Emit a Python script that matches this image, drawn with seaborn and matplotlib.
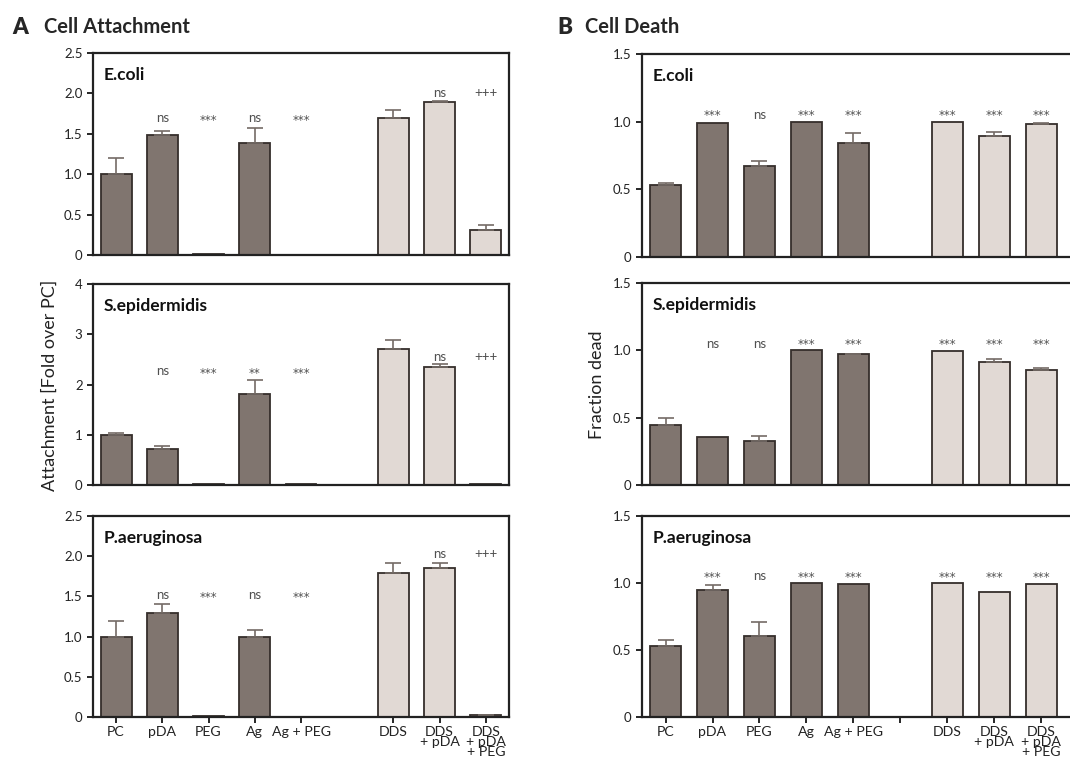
import matplotlib
matplotlib.use("Agg")
import matplotlib.pyplot as plt
import seaborn as sns
import pandas as pd
import numpy as np

# ---------------- data ----------------
categories = ["PC", "pDA", "PEG", "Ag", "Ag + PEG", "DDS", "DDS\n+ pDA", "DDS\n+ pDA\n+ PEG"]
groups = ["coat", "coat", "coat", "coat", "coat", "dds", "dds", "dds"]
species = ["E.coli", "S.epidermidis", "P.aeruginosa"]

# Cell attachment (fold over PC)
att_ecoli = [1.00, 1.49, 0.01, 1.39, 0.005, 1.69, 1.89, 0.315]
att_ecoli_err = [0.20, 0.04, 0.0, 0.18, 0.0, 0.11, 0.02, 0.055]
att_ecoli_sig = ["", "ns", "***", "ns", "***", "", "ns", "+++"]

att_sepi = [1.00, 0.715, 0.02, 1.82, 0.01, 2.70, 2.35, 0.02]
att_sepi_err = [0.04, 0.065, 0.0, 0.27, 0.0, 0.19, 0.05, 0.0]
att_sepi_sig = ["", "ns", "***", "**", "***", "", "ns", "+++"]

att_paer = [1.00, 1.295, 0.01, 1.00, 0.005, 1.79, 1.85, 0.02]
att_paer_err = [0.195, 0.115, 0.0, 0.08, 0.0, 0.12, 0.07, 0.01]
att_paer_sig = ["", "ns", "***", "ns", "***", "", "ns", "+++"]

# Cell death (fraction dead)
dead_ecoli = [0.532, 0.988, 0.676, 0.998, 0.845, 0.995, 0.896, 0.98]
dead_ecoli_err = [0.013, 0.0, 0.034, 0.0, 0.071, 0.0, 0.03, 0.01]
dead_ecoli_sig = ["", "***", "ns", "***", "***", "***", "***", "***"]

dead_sepi = [0.446, 0.359, 0.327, 1.00, 0.97, 0.995, 0.91, 0.856]
dead_sepi_err = [0.052, 0.0, 0.037, 0.0, 0.005, 0.0, 0.023, 0.01]
dead_sepi_sig = ["", "ns", "ns", "***", "***", "***", "***", "***"]

dead_paer = [0.528, 0.95, 0.603, 1.00, 0.995, 1.00, 0.933, 0.993]
dead_paer_err = [0.048, 0.035, 0.104, 0.0, 0.0, 0.0, 0.0, 0.0]
dead_paer_sig = ["", "***", "ns", "***", "***", "***", "***", "***"]

att_ylims = [2.5, 4.0, 2.5]
att_yticks = [[0, 0.5, 1.0, 1.5, 2.0, 2.5], [0, 1, 2, 3, 4], [0, 0.5, 1.0, 1.5, 2.0, 2.5]]
# heights of significance marks: (uncoated/coated group, DDS group)
att_sig_y = [(1.70, 2.0), (2.26, 2.54), (1.52, 2.03)]
dead_sig_y = (1.06, 1.05)  # (***, ns)
dead_yticks = [0, 0.5, 1.0, 1.5]

# ---------------- style ----------------
sns.set_theme(style="ticks")
plt.rcParams["font.family"] = ["Lato", "DejaVu Sans"]
plt.rcParams["axes.linewidth"] = 1.6
plt.rcParams["xtick.major.width"] = 1.4
plt.rcParams["ytick.major.width"] = 1.4
plt.rcParams["xtick.major.size"] = 4
plt.rcParams["ytick.major.size"] = 4

DARK = "#80756f"
LIGHT = "#e1d9d4"
EDGE = "#352e2b"
ERRC = "#746b66"
SIGC = "#505050"

gap = " "
order = categories[:5] + [gap] + categories[5:]
positions = [0, 1, 2, 3, 4, 6, 7, 8]

fig = plt.figure(figsize=(10.7, 7.62), dpi=100)
W, H = 1070.0, 762.0


def add_axes_px(x0, y_top, x1, y_bot):
    return fig.add_axes([x0 / W, 1 - y_bot / H, (x1 - x0) / W, (y_bot - y_top) / H])


def fmt(v):
    if v == 0:
        return "0"
    if isinstance(v, int):
        return str(v)
    return f"{v:.1f}"


def draw_panel(ax, vals, errs, sigs, sp, ylim, yticks, sig_heights, xmax, bottom, gap_tick):
    df = pd.DataFrame({"cat": categories, "val": vals, "grp": groups})
    sns.barplot(data=df, x="cat", y="val", hue="grp", order=order,
                palette={"coat": DARK, "dds": LIGHT}, dodge=False, width=0.67,
                edgecolor=EDGE, linewidth=1.3, errorbar=None, legend=False,
                saturation=1, ax=ax)
    e = np.array(errs)
    v = np.array(vals)
    p = np.array(positions)
    m = e > 0
    ax.errorbar(p[m], v[m], yerr=[np.zeros(m.sum()), e[m]], fmt="none",
                ecolor=ERRC, elinewidth=1.2, capsize=5.5, capthick=1.2, zorder=1)
    for pos, s, h in zip(positions, sigs, sig_heights):
        if not s:
            continue
        if "*" in s:
            ax.text(pos, h - 0.012 * ylim, s, ha="center", va="center",
                    fontsize=8.5, color=SIGC, family="DejaVu Sans")
        else:
            ax.text(pos, h, s, ha="center", va="center", fontsize=9.5, color=SIGC)
    ax.set_ylim(0, ylim)
    ax.set_xlim(-0.5, xmax)
    ax.set_yticks(yticks)
    ax.set_yticklabels([fmt(t) for t in yticks], fontsize=9.5, color="#222222")
    ax.set_xlabel("")
    ax.set_ylabel("")
    for s in ax.spines.values():
        s.set_visible(True)
        s.set_color("#222222")
    ax.text(0.025, 0.93, sp, transform=ax.transAxes, ha="left", va="top",
            fontsize=12.5, fontweight="bold", color="#111111")
    if bottom:
        ticks = positions + ([5] if gap_tick else [])
        labels = categories + ([""] if gap_tick else [])
        ax.set_xticks(ticks)
        ax.set_xticklabels(labels, fontsize=10.2, linespacing=0.78, color="#222222")
        ax.tick_params(axis="x", pad=2.5)
    else:
        ax.set_xticks([])


left_rows = [(53, 255), (284, 485), (516, 717)]
right_rows = [(54, 257), (283, 485), (516, 717)]
att_data = [(att_ecoli, att_ecoli_err, att_ecoli_sig),
            (att_sepi, att_sepi_err, att_sepi_sig),
            (att_paer, att_paer_err, att_paer_sig)]
dead_data = [(dead_ecoli, dead_ecoli_err, dead_ecoli_sig),
             (dead_sepi, dead_sepi_err, dead_sepi_sig),
             (dead_paer, dead_paer_err, dead_paer_sig)]

for i in range(3):
    ax = add_axes_px(93, left_rows[i][0], 509, left_rows[i][1])
    v, e, s = att_data[i]
    a, b = att_sig_y[i]
    heights = [a if k < 5 else b for k in range(len(s))]
    draw_panel(ax, v, e, s, species[i], att_ylims[i], att_yticks[i], heights,
               8.5, i == 2, False)

    ax2 = add_axes_px(642, right_rows[i][0], 642 + 9.3 * 47, right_rows[i][1])
    v, e, s = dead_data[i]
    heights = [dead_sig_y[1] if lab == "ns" else dead_sig_y[0] for lab in s]
    draw_panel(ax2, v, e, s, species[i], 1.5, dead_yticks, heights,
               8.8, i == 2, True)

fig.text(50 / W, 1 - 385 / H, "Attachment [Fold over PC]", rotation=90,
         ha="center", va="center", fontsize=13, color="#222222")
fig.text(597 / W, 1 - 385 / H, "Fraction dead", rotation=90,
         ha="center", va="center", fontsize=13, color="#222222")

fig.text(12 / W, 1 - 27 / H, "A", fontsize=16, fontweight="heavy", va="center", ha="left")
fig.text(44 / W, 1 - 27 / H, "Cell Attachment", fontsize=14.5, fontweight="bold", va="center", ha="left")
fig.text(557 / W, 1 - 27 / H, "B", fontsize=16, fontweight="heavy", va="center", ha="left")
fig.text(585 / W, 1 - 27 / H, "Cell Death", fontsize=14.5, fontweight="bold", va="center", ha="left")

fig.savefig("out.png", dpi=100)
